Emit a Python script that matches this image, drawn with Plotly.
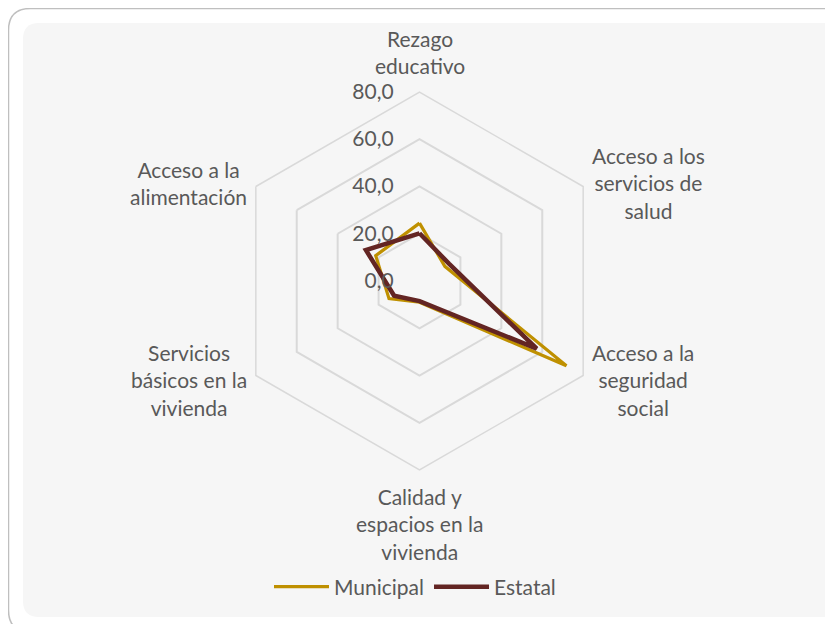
import math
import plotly.graph_objects as go

categories = [
    "Rezago<br>educativo",
    "Acceso a los<br>servicios de<br>salud",
    "Acceso a la<br>seguridad<br>social",
    "Calidad y<br>espacios en la<br>vivienda",
    "Servicios<br>básicos en la<br>vivienda",
    "Acceso a la<br>alimentación",
]
municipal = [24.5, 12.4, 71.8, 9.0, 14.9, 21.4]
estatal = [20.2, 14.5, 57.3, 8.5, 12.4, 26.2]
radial_ticks = [0, 20, 40, 60, 80]

W, H = 833, 624
OFF = 8  # page body margin offset
FONT = "Lato, Noto Sans, sans-serif"
TXT = "#595959"

cx, cy, R = 419.5, 281.0, 189.0

def px(x):
    return (x - OFF) / W

def py(y):
    return 1 - (y - OFF) / H

def rounded_path(x0, y0, x1, y1, r):
    pts = [
        f"M {px(x0 + r)},{py(y0)}",
        f"L {px(x1 - r)},{py(y0)}",
        f"Q {px(x1)},{py(y0)} {px(x1)},{py(y0 + r)}",
        f"L {px(x1)},{py(y1 - r)}",
        f"Q {px(x1)},{py(y1)} {px(x1 - r)},{py(y1)}",
        f"L {px(x0 + r)},{py(y1)}",
        f"Q {px(x0)},{py(y1)} {px(x0)},{py(y1 - r)}",
        f"L {px(x0)},{py(y0 + r)}",
        f"Q {px(x0)},{py(y0)} {px(x0 + r)},{py(y0)}",
        "Z",
    ]
    return " ".join(pts)

fig = go.Figure()
fig.add_trace(go.Scatterpolar(
    r=municipal + [municipal[0]], theta=categories + [categories[0]],
    mode="lines", name="Municipal",
    line=dict(color="#BF9000", width=3.2),
))
fig.add_trace(go.Scatterpolar(
    r=estatal + [estatal[0]], theta=categories + [categories[0]],
    mode="lines", name="Estatal",
    line=dict(color="#632523", width=4.5),
))

# category labels, placed around the hexagon (centered multi-line text)
annotations = []
n = len(categories)
for i, name in enumerate(categories):
    ang = 90 - i * 360 / n
    c, s = math.cos(math.radians(ang)), math.sin(math.radians(ang))
    if abs(c) < 1e-6:
        d = 12
        xa, ya = "center", ("bottom" if s > 0 else "top")
    else:
        d = 8
        xa, ya = ("left" if c > 0 else "right"), "middle"
    x = cx + (R + d) * c
    y = cy - (R + d) * s
    annotations.append(dict(
        text=name, x=px(x), y=py(y), xref="paper", yref="paper",
        xanchor=xa, yanchor=ya, align="center", showarrow=False,
        font=dict(family=FONT, size=21, color=TXT),
    ))

fig.update_layout(
    width=W, height=H,
    margin=dict(l=0, r=0, t=0, b=0, autoexpand=False),
    paper_bgcolor="white",
    font=dict(family=FONT, size=21, color=TXT),
    separators=",.",
    annotations=annotations,
    shapes=[
        dict(type="path", xref="paper", yref="paper", layer="below",
             path=rounded_path(8.5, 8.5, 860, 632, 22),
             line=dict(color="#BFBFBF", width=1.5), fillcolor="white"),
        dict(type="path", xref="paper", yref="paper", layer="below",
             path=rounded_path(23, 23, 860, 617, 16),
             line=dict(width=0), fillcolor="#F6F6F6"),
    ],
    polar=dict(
        domain=dict(x=[px(cx - R), px(cx + R)], y=[py(cy + R), py(cy - R)]),
        bgcolor="rgba(0,0,0,0)",
        gridshape="linear",
        radialaxis=dict(
            range=[0, 80], tickvals=radial_ticks, tickformat=".1f",
            angle=90, side="counterclockwise", tickangle=90,
            showline=False, ticks="outside", ticklen=18, tickcolor="rgba(0,0,0,0)",
            gridcolor="#D9D9D9", gridwidth=1.5,
            tickfont=dict(family=FONT, size=21, color=TXT),
        ),
        angularaxis=dict(
            direction="clockwise", rotation=90,
            showgrid=False, showline=True, linecolor="#D9D9D9", linewidth=1.5,
            ticks="", showticklabels=False,
        ),
    ),
    showlegend=True,
    legend=dict(orientation="h", x=px(415), xanchor="center", y=py(587), yanchor="middle",
                itemwidth=55, bgcolor="rgba(0,0,0,0)",
                font=dict(family=FONT, size=21, color=TXT)),
)

fig.write_html("out.html")
